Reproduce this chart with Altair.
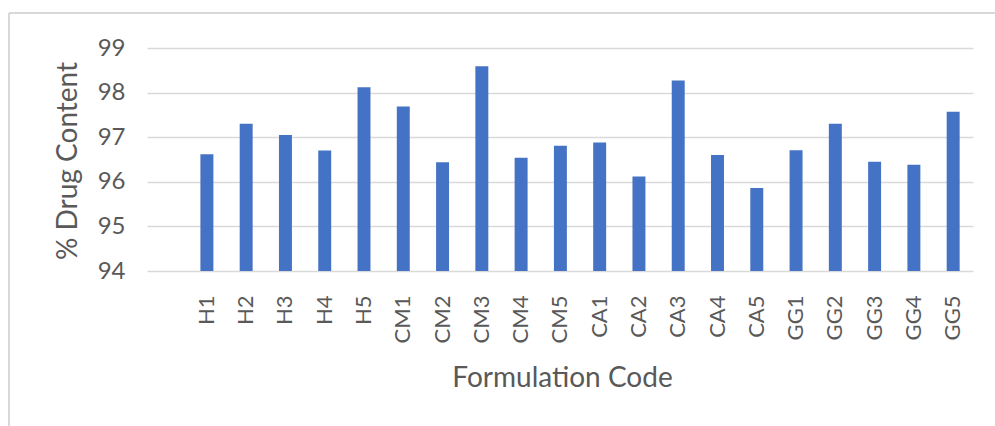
import altair as alt
import pandas as pd

# Formulation codes and their measured drug content (%)
codes = ["H1", "H2", "H3", "H4", "H5",
         "CM1", "CM2", "CM3", "CM4", "CM5",
         "CA1", "CA2", "CA3", "CA4", "CA5",
         "GG1", "GG2", "GG3", "GG4", "GG5"]
drug_content = [96.62, 97.30, 97.05, 96.70, 98.12,
                97.69, 96.44, 98.59, 96.54, 96.81,
                96.88, 96.12, 98.27, 96.60, 95.86,
                96.71, 97.30, 96.45, 96.38, 97.57]
y_ticks = [94, 95, 96, 97, 98, 99]

df = pd.DataFrame({"code": codes, "content": drug_content})

FONT = "Lato"
TEXT = "#595959"
GRID = "#d9d9d9"
BAR = "#4472C4"

W, H = 826, 223
PAD = {"left": 147, "top": 48, "right": 22, "bottom": 155}

bars = alt.Chart(df).transform_calculate(base="94").mark_bar(color=BAR).encode(
    x=alt.X(
        "code:N",
        sort=codes,
        scale=alt.Scale(paddingInner=0.67, paddingOuter=0.85, align=0.8),
        axis=alt.Axis(
            title="Formulation Code",
            labelAngle=270,
            labelAlign="right",
            labelBaseline="middle",
            labelPadding=24,
            labelFont=FONT,
            labelFontSize=22,
            labelColor=TEXT,
            ticks=False,
            domain=False,
            grid=False,
            titleFont=FONT,
            titleFontSize=28,
            titleFontWeight="normal",
            titleColor=TEXT,
            titleX=W / 2 + 2,
            titleY=107,
            titleBaseline="middle",
            titleAlign="center",
        ),
    ),
    y=alt.Y(
        "content:Q",
        scale=alt.Scale(domain=[94, 99], zero=False, nice=False),
        axis=alt.Axis(
            title="% Drug Content",
            values=y_ticks,
            labelFont=FONT,
            labelFontSize=24,
            labelColor=TEXT,
            labelPadding=22,
            ticks=False,
            domain=False,
            grid=True,
            gridColor=GRID,
            gridWidth=1.5,
            titleFont=FONT,
            titleFontSize=28,
            titleFontWeight="normal",
            titleColor=TEXT,
            titleAngle=270,
            titleX=-79,
            titleY=H / 2 + 1,
            titleAlign="center",
            titleBaseline="middle",
        ),
    ),
    y2="base:Q",
)

# light outer frame of the chart area
frame_top = alt.Chart(df).mark_rule(color=GRID, strokeWidth=1.5).encode(
    x=alt.value(-138), x2=alt.value(W + 40), y=alt.value(-35)
)
frame_left = alt.Chart(df).mark_rule(color=GRID, strokeWidth=1.5).encode(
    x=alt.value(-138), y=alt.value(-35), y2=alt.value(H + 160)
)

chart = alt.layer(frame_top, frame_left, bars).properties(
    width=W,
    height=H,
    padding=PAD,
    autosize=alt.AutoSizeParams(type="none"),
    background="white",
).configure_view(stroke=None)

chart.save("out.html", embed_options={"renderer": "svg", "actions": False})
